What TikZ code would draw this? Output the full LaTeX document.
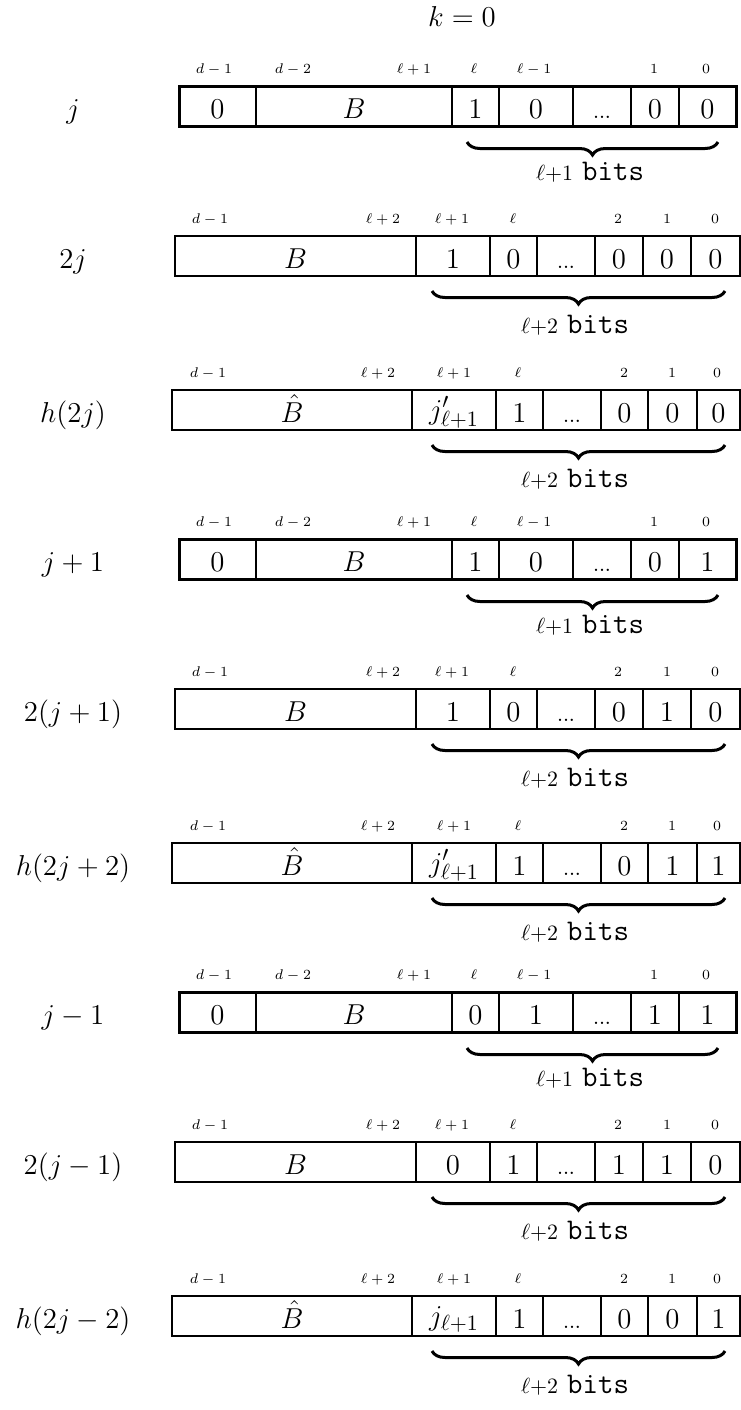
\documentclass[tikz,border=0pt]{standalone}
\usetikzlibrary{decorations.pathreplacing}
\newcommand\tdots{{\fontsize{12}{14}\selectfont .\kern-.3pt.\kern-.3pt.}}
\newcommand\jsub[1]{\raisebox{1.5pt}{$j#1_{\ell+1}$}}
\tikzset{
  cellt/.style={font=\fontsize{15.5}{18}\selectfont, anchor=base, inner sep=0pt},
  idx/.style={font=\fontsize{6.8}{8}\selectfont, anchor=base, inner sep=0pt},
  rowlab/.style={font=\fontsize{15.5}{18}\selectfont, anchor=base, inner sep=0pt},
  bitslab/.style={font=\fontsize{15}{18}\selectfont, inner sep=0pt},
  ubrace/.style={decorate, decoration={brace, mirror, amplitude=6.5pt}, line width=1.5pt},
  innerA/.style={line width=0.9pt},
  outerA/.style={line width=1.5pt},
  lineB/.style={line width=0.95pt},
}
% row of type j: name, ytop, label, cells
\newcommand\rowA[4]{%
  \node[rowlab] (#1-lab) at (73,#2+32) {#3};
  \foreach \a/\b/\t [count=\i] in {#4} {
    \draw[innerA] (\a,#2) rectangle (\b,#2+40);
    \node[cellt] (#1-c\i) at ({(\a+\b)/2},#2+32) {\t};
  }
  \draw[outerA] (179,#2) rectangle (736,#2+40);
  \foreach \x/\t [count=\i] in {214/$d-1$,293/$d-2$,414/$\ell+1$,474/$\ell$,534/$\ell-1$,654/$1$,706/$0$}
    \node[idx] (#1-i\i) at (\x,#2-13) {\t};
  \coordinate (#1-bl) at (467,#2+56);
  \coordinate (#1-br) at (718,#2+56);
  \draw[ubrace] (#1-bl) -- (#1-br);
  \node[bitslab] (#1-bits) at (590,#2+86) {$\scriptstyle\ell+1$ \texttt{bits}};
}
% row of type 2j / h: name, ytop, label, cells, index positions (macro)
\newcommand\rowB[5]{%
  \node[rowlab] (#1-lab) at (73,#2+32) {#3};
  \foreach \a/\b/\t [count=\i] in {#4} {
    \draw[lineB] (\a,#2) rectangle (\b,#2+40);
    \node[cellt] (#1-c\i) at ({(\a+\b)/2},#2+32) {\t};
  }
  \foreach \x/\t [count=\i] in #5
    \node[idx] (#1-i\i) at (\x,#2-13) {\t};
  \coordinate (#1-bl) at (432,#2+55);
  \coordinate (#1-br) at (725,#2+55);
  \draw[ubrace] (#1-bl) -- (#1-br);
  \node[bitslab] (#1-bits) at (575,#2+89) {$\scriptstyle\ell+2$ \texttt{bits}};
}
\newcommand\idxB{210/$d-1$,383/$\ell+2$,452/$\ell+1$,513/$\ell$,618/$2$,667/$1$,715/$0$}
\newcommand\idxC{208/$d-1$,378/$\ell+2$,454/$\ell+1$,518/$\ell$,624/$2$,672/$1$,717/$0$}
\begin{document}
\begin{tikzpicture}[x=0.5pt,y=-0.5pt]
\useasboundingbox (0,0) rectangle (740,1410);
\node[font=\fontsize{15.5}{18}\selectfont, inner sep=0pt] (title) at (462,16) {$k=0$};

\rowA{r1}{86}{$j$}{179/256/$0$,256/452/$B$,452/499/$1$,499/573/$0$,573/631/\tdots,631/679/$0$,679/736/$0$}
\rowB{r2}{236}{$2j$}{175/416/$B$,416/490/$1$,490/537/$0$,537/595/\tdots,595/643/$0$,643/691/$0$,691/740/$0$}{\idxB}
\rowB{r3}{390}{$h(2j)$}{172/412/$\hat{B}$,412/496/\jsub{'},496/543/$1$,543/601/\tdots,601/648/$0$,648/697/$0$,697/740/$0$}{\idxC}

\rowA{r4}{539}{$j+1$}{179/256/$0$,256/452/$B$,452/499/$1$,499/573/$0$,573/631/\tdots,631/679/$0$,679/736/$1$}
\rowB{r5}{689}{$2(j+1)$}{175/416/$B$,416/490/$1$,490/537/$0$,537/595/\tdots,595/643/$0$,643/691/$1$,691/740/$0$}{\idxB}
\rowB{r6}{843}{$h(2j+2)$}{172/412/$\hat{B}$,412/496/\jsub{'},496/543/$1$,543/601/\tdots,601/648/$0$,648/697/$1$,697/740/$1$}{\idxC}

\rowA{r7}{992}{$j-1$}{179/256/$0$,256/452/$B$,452/499/$0$,499/573/$1$,573/631/\tdots,631/679/$1$,679/736/$1$}
\rowB{r8}{1142}{$2(j-1)$}{175/416/$B$,416/490/$0$,490/537/$1$,537/595/\tdots,595/643/$1$,643/691/$1$,691/740/$0$}{\idxB}
\rowB{r9}{1296}{$h(2j-2)$}{172/412/$\hat{B}$,412/496/\jsub{},496/543/$1$,543/601/\tdots,601/648/$0$,648/697/$0$,697/740/$1$}{\idxC}
\end{tikzpicture}
\end{document}
